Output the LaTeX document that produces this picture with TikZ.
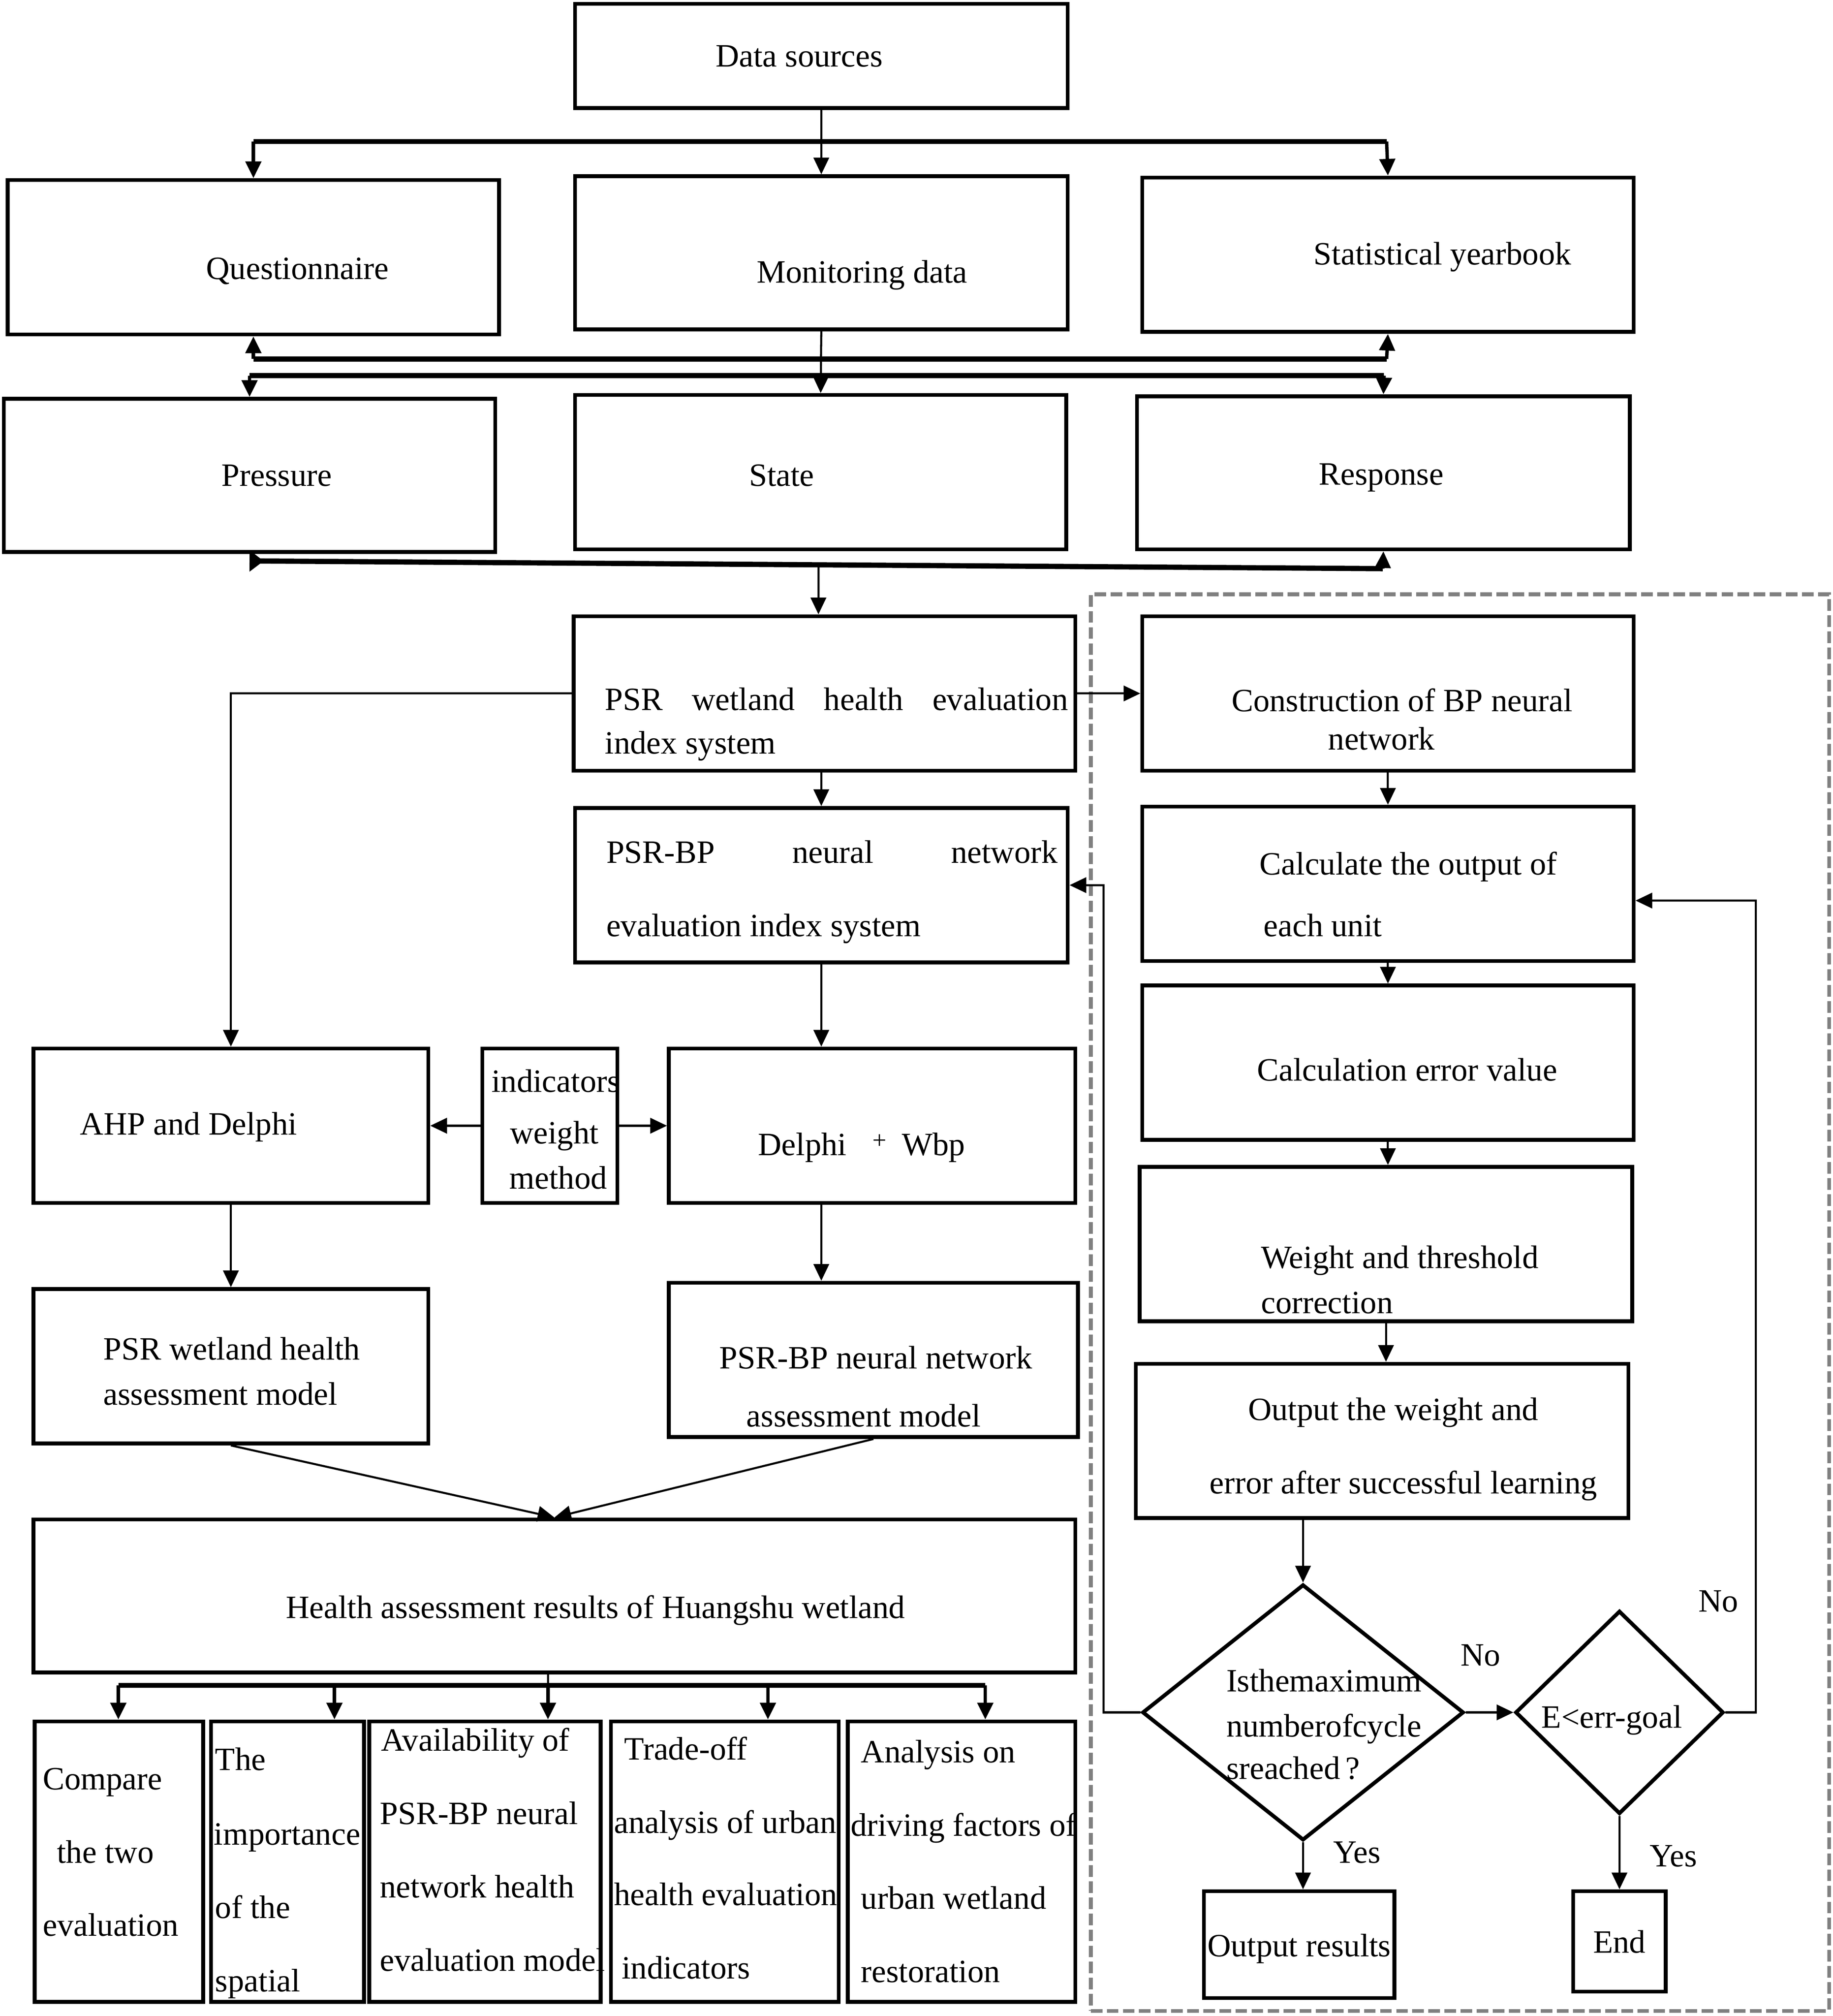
\documentclass[tikz,border=0pt]{standalone}
\usepackage{fontspec}
\setmainfont{Liberation Serif}
\usetikzlibrary{arrows.meta,shapes.geometric,fit,calc}
\newcommand\fs{\fontsize{14.4}{17}\selectfont}
\newcommand\mkbox[5]{\node[box,fit={(#2,#3) (#4,#5)}] (#1) {};}
\begin{document}
\begin{tikzpicture}[x=0.02cm,y=-0.02cm,
  box/.style={draw,line width=1.7pt,inner sep=0pt},
  dia/.style={diamond,draw,line width=1.7pt,inner sep=0pt},
  dashbox/.style={draw=black!50,line width=1.7pt,dash pattern=on 0.18cm off 0.07cm,inner sep=0pt},
  txt/.style={inner sep=0pt,font=\fs,text height=9pt,text depth=0pt},
  tip/.style={-{Triangle[length=0.26cm,width=0.24cm]}},
  thin/.style={line width=0.9pt},
  bus/.style={line width=2.3pt},
  stub/.style={line width=1.5pt}]
\useasboundingbox (0,0) rectangle (1425,1567);

% dashed frame
\node[dashbox,fit={(848,462) (1422,1563)}] (frame) {};

% boxes
\mkbox{ds}{447}{3}{830}{84}
\mkbox{qu}{6}{140}{388}{260}
\mkbox{md}{447}{137}{830}{256}
\mkbox{sy}{888}{138}{1270}{258}
\mkbox{pr}{3}{310}{385}{429}
\mkbox{st}{447}{307}{829}{427}
\mkbox{re}{884}{308}{1267}{427}
\mkbox{psr}{446}{479}{836}{599}
\mkbox{psrbp}{447}{628}{830}{748}
\mkbox{ahp}{26}{815}{333}{935}
\mkbox{iwm}{375}{815}{480}{935}
\mkbox{dw}{520}{815}{836}{935}
\mkbox{pwham}{26}{1002}{333}{1122}
\mkbox{pbam}{520}{997}{838}{1117}
\mkbox{har}{26}{1181}{836}{1300}
\mkbox{b1}{27}{1338}{158}{1556}
\mkbox{b2}{164}{1338}{283}{1556}
\mkbox{b3}{287}{1338}{467}{1556}
\mkbox{b4}{475}{1338}{652}{1556}
\mkbox{b5}{659}{1338}{836}{1556}
\mkbox{cbp}{888}{479}{1270}{599}
\mkbox{cal}{888}{627}{1270}{747}
\mkbox{cev}{888}{766}{1270}{886}
\mkbox{wtc}{886}{907}{1269}{1027}
\mkbox{owe}{883}{1060}{1266}{1180}
\mkbox{ores}{936}{1470}{1084}{1553}
\mkbox{endb}{1223}{1470}{1295}{1548}
\node[dia,minimum width=5cm,minimum height=3.98cm] (d1) at (1013,1331) {};
\node[dia,minimum width=3.24cm,minimum height=3.16cm] (d2) at (1259,1331) {};

% texts
\node[txt,anchor=west] (tds) at (556,44) {Data sources};
\node[txt,anchor=west] (tqu) at (160,209) {Questionnaire};
\node[txt,anchor=west] (tmd) at (588,212) {Monitoring data};
\node[txt,anchor=west] (tsy) at (1021,198) {Statistical yearbook};
\node[txt,anchor=west] (tpr) at (172,370) {Pressure};
\node[txt,anchor=west] (tst) at (582,370) {State};
\node[txt,anchor=west] (tre) at (1025,369) {Response};
\node[txt,anchor=west] (tpsr1) at (470,544) {\makebox[7.2cm][s]{PSR wetland health evaluation}};
\node[txt,anchor=west] (tpsr2) at (470,578) {index system};
\node[txt,anchor=west] (tbp1) at (471,663) {\makebox[7.02cm][s]{PSR-BP neural network}};
\node[txt,anchor=west] (tbp2) at (471,720) {evaluation index system};
\node[txt,anchor=west] (tahp) at (62,874) {AHP and Delphi};
\node[txt] (tiw1) at (432,841) {indicators};
\node[txt] (tiw2) at (431,881) {weight};
\node[txt] (tiw3) at (434,916) {method};
\node[txt,anchor=west] (tdw) at (589,890) {Delphi\hspace{0.4cm}\raisebox{3pt}{\fontsize{11}{12}\selectfont +}\hspace{0.24cm}Wbp};
\node[txt,anchor=west] (tpw1) at (80,1049) {PSR wetland health};
\node[txt,anchor=west] (tpw2) at (80,1084) {assessment model};
\node[txt,anchor=west] (tpb1) at (559,1056) {PSR-BP neural network};
\node[txt,anchor=west] (tpb2) at (580,1101) {assessment model};
\node[txt,anchor=west] (thar) at (222,1250) {Health assessment results of Huangshu wetland};
\node[txt,anchor=west] (tb11) at (33,1383) {Compare};
\node[txt,anchor=west] (tb12) at (44,1440) {the two};
\node[txt,anchor=west] (tb13) at (33,1497) {evaluation};
\node[txt,anchor=west] (tb21) at (167,1368) {The};
\node[txt,anchor=west] (tb22) at (166,1426) {importance};
\node[txt,anchor=west] (tb23) at (167,1483) {of the};
\node[txt,anchor=west] (tb24) at (167,1540) {spatial};
\node[txt,anchor=west] (tb31) at (296,1353) {Availability of};
\node[txt,anchor=west] (tb32) at (295,1410) {PSR-BP neural};
\node[txt,anchor=west] (tb33) at (295,1467) {network health};
\node[txt,anchor=west] (tb34) at (295,1524) {evaluation model};
\node[txt,anchor=west] (tb41) at (485,1360) {Trade-off};
\node[txt,anchor=west] (tb42) at (477,1417) {analysis of urban};
\node[txt,anchor=west] (tb43) at (477,1473) {health evaluation};
\node[txt,anchor=west] (tb44) at (483,1530) {indicators};
\node[txt,anchor=west] (tb51) at (669,1362) {Analysis on};
\node[txt,anchor=west] (tb52) at (661,1419) {driving factors of};
\node[txt,anchor=west] (tb53) at (669,1476) {urban wetland};
\node[txt,anchor=west] (tb54) at (669,1533) {restoration};
\node[txt] (tcbp1) at (1090,545) {Construction of BP neural};
\node[txt] (tcbp2) at (1074,575) {network};
\node[txt,anchor=west] (tcal1) at (979,672) {Calculate the output of};
\node[txt,anchor=west] (tcal2) at (982,720) {each unit};
\node[txt,anchor=west] (tcev) at (977,832) {Calculation error value};
\node[txt,anchor=west] (twtc1) at (980,978) {Weight and threshold};
\node[txt,anchor=west] (twtc2) at (980,1013) {correction};
\node[txt,anchor=west] (towe1) at (970,1096) {Output the weight and};
\node[txt,anchor=west] (towe2) at (940,1153) {error after successful learning};
\node[txt,anchor=west] (td11) at (953,1307) {Isthemaximum};
\node[txt,anchor=west] (td12) at (953,1342) {numberofcycle};
\node[txt,anchor=west] (td13) at (953,1375) {sreached\,?};
\node[txt,anchor=west] (td2) at (1198,1335) {E<err-goal};
\node[txt] (tores) at (1010,1513) {Output results};
\node[txt] (tend) at (1259,1510) {End};
\node[txt] (lno1) at (1151,1287) {No};
\node[txt] (lno2) at (1336,1245) {No};
\node[txt] (lyes1) at (1055,1440) {Yes};
\node[txt] (lyes2) at (1301,1443) {Yes};

% top connectors
\draw[thin,tip] (ds.south) -- (md.north);
\coordinate (j1) at (197,110); \coordinate (j2) at (1078,110);
\draw[bus] (j1) -- (j2);
\draw[stub,tip] (j1) -- (qu.north);
\draw[stub,tip] (j2) -- (sy.north);
\coordinate (u1) at (197,279); \coordinate (u2) at (1078,279);
\draw[bus] (u1) -- (u2);
\draw[stub,tip] (u1) -- (qu.south);
\draw[stub,tip] (u2) -- (sy.south);
\coordinate (l1) at (194,292); \coordinate (l2) at (1076,292);
\draw[bus] (l1) -- (l2);
\draw[stub,tip] (l1) -- (pr.north);
\draw[stub,tip] (l2) -- (re.north);
\draw[thin,tip] (md.south) -- (st.north);
\coordinate (s1) at (194,436); \coordinate (s2) at (1075,442);
\draw[bus,{Triangle[reversed,length=0.22cm,width=0.32cm]}-] (s1) -- (s2);
\draw[stub,tip] (s2) -- (re.south);
\coordinate (s3) at ($(s1)!0.502!(s2)$);
\draw[thin,tip] (s3) -- (s3 |- psr.north);

% middle connectors
\draw[thin,tip] (psr.east) -- (cbp.west);
\draw[thin,tip] (psr.west) -| (ahp.north);
\draw[thin,tip] (psrbp.north |- psr.south) -- (psrbp.north);
\draw[thin,tip] (psrbp.south) -- (psrbp.south |- dw.north);
\draw[thin,tip] (iwm.west) -- (ahp.east);
\draw[thin,tip] (iwm.east) -- (dw.west);
\draw[thin,tip] (ahp.south) -- (pwham.north);
\draw[thin,tip] (psrbp.south |- dw.south) -- (psrbp.south |- pbam.north);
\draw[thin,tip] (pwham.south) -- (har.north);
\draw[thin,tip] (pbam.south) -- (har.north);

% bottom connectors
\coordinate (bb1) at (92,1310); \coordinate (bb2) at (260,1310);
\coordinate (bb3) at (426,1310); \coordinate (bb4) at (597,1310);
\coordinate (bb5) at (766,1310);
\draw[bus] (bb1) -- (bb5);
\draw[thin] (har.south -| bb3) -- (bb3);
\draw[stub,tip] (bb1) -- (bb1 |- b1.north);
\draw[stub,tip] (bb2) -- (bb2 |- b2.north);
\draw[stub,tip] (bb3) -- (bb3 |- b3.north);
\draw[stub,tip] (bb4) -- (bb4 |- b4.north);
\draw[stub,tip] (bb5) -- (bb5 |- b5.north);

% right flow
\draw[thin,tip] (cbp.south) -- (cal.north);
\draw[thin,tip] (cal.south) -- (cev.north);
\draw[thin,tip] (cev.south) -- (cev.south |- wtc.north);
\draw[thin,tip] (wtc.south) -- (wtc.south |- owe.north);
\draw[thin,tip] (owe.south -| d1.north) -- (d1.north);
\draw[thin,tip] (d1.east) -- (d2.west);
\draw[thin,tip] (d1.south) -- (d1.south |- ores.north);
\draw[thin,tip] (d2.south) -- (d2.south |- endb.north);
\coordinate (nr) at (1365,700);
\draw[thin,tip] (d2.east) -| (nr) -- (cal.east |- nr);
\coordinate (nl) at (858,688);
\draw[thin,tip] (d1.west) -| (nl) -- (psrbp.east |- nl);
\end{tikzpicture}
\end{document}
